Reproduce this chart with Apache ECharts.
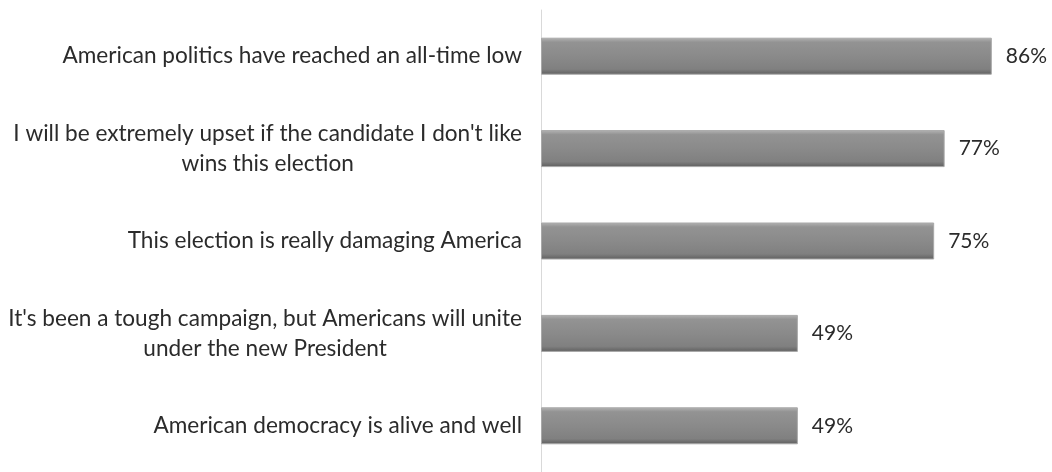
<!DOCTYPE html>
<html>
<head>
<meta charset="utf-8">
<script src="https://cdn.jsdelivr.net/npm/echarts@6/dist/echarts.min.js"></script>
<style>
  html, body { margin: 0; padding: 0; background: #fff; }
  #chart { width: 1052px; height: 472px; }
</style>
</head>
<body>
<div id="chart"></div>
<script>
var categories = [
  'American politics have reached an all-time low',
  'I will be extremely upset if the candidate I don\'t like\nwins this election',
  'This election is really damaging America',
  'It\'s been a tough campaign, but Americans will unite\nunder the new President',
  'American democracy is alive and well'
];
var values = [86, 77, 75, 49, 49];

var myChart = echarts.init(document.getElementById('chart'));
var barColor = new echarts.graphic.LinearGradient(0, 0, 0, 1, [
  { offset: 0, color: '#b4b4b4' },
  { offset: 0.12, color: '#939393' },
  { offset: 0.5, color: '#8a8a8a' },
  { offset: 0.85, color: '#808080' },
  { offset: 1, color: '#5e5e5e' }
]);

var option = {
  backgroundColor: '#fff',
  animation: false,
  grid: { left: 541, top: 10, width: 498, height: 468 },
  xAxis: {
    type: 'value',
    min: 0,
    max: 95,
    show: false
  },
  yAxis: {
    type: 'category',
    inverse: true,
    data: categories,
    axisLine: { show: true, lineStyle: { color: '#d9d9d9', width: 1 } },
    axisTick: { show: false },
    axisLabel: {
      margin: 19,
      align: 'right',
      // each line centred inside the right-aligned block
      formatter: function (v) {
        return v.split('\n').map(function (s) { return '{c|' + s + '}'; }).join('\n');
      },
      rich: {
        c: {
          color: '#2b2b2b',
          fontFamily: 'Lato',
          fontSize: 22.6,
          lineHeight: 30,
          align: 'center'
        }
      }
    }
  },
  series: [{
    type: 'bar',
    data: values,
    barWidth: 37,
    itemStyle: {
      color: barColor,
      borderColor: '#a8a8a8',
      borderWidth: 1
    },
    label: {
      show: true,
      position: 'right',
      distance: 14,
      color: '#2b2b2b',
      fontFamily: 'Lato',
      fontSize: 21,
      formatter: '{c}%'
    }
  }]
};
myChart.setOption(option);
</script>
</body>
</html>
